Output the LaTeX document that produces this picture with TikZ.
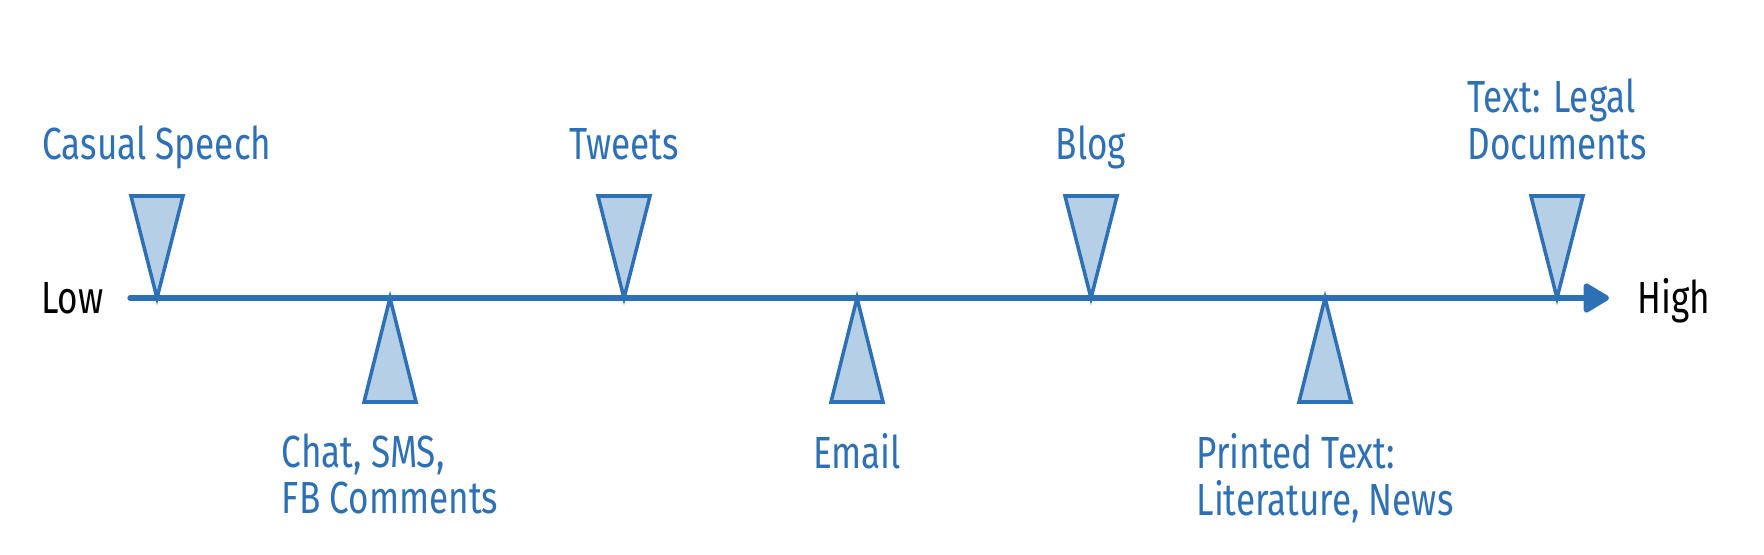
\documentclass[tikz,border=0pt]{standalone}
\usepackage{fontspec}
\setmainfont{Fira Sans}[FakeStretch=0.78]
\usepackage{tikz}
\usetikzlibrary{arrows.meta}
\usetikzlibrary{positioning}
\usetikzlibrary{calc}
\definecolor{lineblue}{RGB}{46,112,181}
\definecolor{fillblue}{RGB}{181,208,230}
\tikzstyle{every node}=[font=\fontsize{12.8}{13.2}\selectfont,inner sep=0pt]
\tikzstyle{every path}=[line cap=butt,line join=miter]
\tikzstyle{marker}=[draw=lineblue,fill=fillblue,line width=1pt]
\tikzstyle{toplabel}=[text=lineblue,anchor=south,align=left,text depth=0pt]
\tikzstyle{botlabel}=[text=lineblue,anchor=north,align=left]
\tikzstyle{endlabel}=[text=black]

\begin{document}
\begin{tikzpicture}[x=0.01cm,y=0.01cm]
\useasboundingbox (0,0) rectangle (1764,554);

% axis
\coordinate (axisstart) at (130,256);
\coordinate (axisend) at (1609,256);
\node[endlabel,anchor=base east] (low) at (104,241) {Low};
\node[endlabel,anchor=base west] (high) at (1637,241) {High};
\draw [line width=1.5pt,draw=lineblue,line cap=round,-{Triangle[length=2.8mm,width=3.2mm,round=false]}] (axisstart) -- (axisend);

% points on the axis
\coordinate (speech) at (157,256);
\coordinate (chat) at (390,256);
\coordinate (tweets) at (624,256);
\coordinate (email) at (857,256);
\coordinate (blog) at (1091,256);
\coordinate (printed) at (1325,256);
\coordinate (legal) at (1557,256);

% markers above the axis
\draw [marker] (speech) -- ++(-26,102) -- ++(52,0) -- cycle;
\draw [marker] (tweets) -- ++(-26,102) -- ++(52,0) -- cycle;
\draw [marker] (blog) -- ++(-26,102) -- ++(52,0) -- cycle;
\draw [marker] (legal) -- ++(-26,102) -- ++(52,0) -- cycle;

% markers below the axis
\draw [marker] (chat) -- ++(-26,-104) -- ++(52,0) -- cycle;
\draw [marker] (email) -- ++(-26,-104) -- ++(52,0) -- cycle;
\draw [marker] (printed) -- ++(-26,-104) -- ++(52,0) -- cycle;

\node[toplabel] (speechtext) at ($(speech)+(0,138)$) {Casual Speech};
\node[toplabel] (tweetstext) at ($(tweets)+(0,138)$) {Tweets};
\node[toplabel] (blogtext) at ($(blog)+(0,138)$) {Blog};
\node[toplabel] (legaltext) at ($(legal)+(0,138)$) {Text: Legal\\Documents};

\node[botlabel] (chattext) at ($(chat)+(0,-135)$) {Chat, SMS,\\FB Comments};
\node[botlabel] (emailtext) at ($(email)+(0,-135)$) {Email};
\node[botlabel] (printedtext) at ($(printed)+(0,-135)$) {Printed Text:\\Literature, News};
\end{tikzpicture}
\end{document}
